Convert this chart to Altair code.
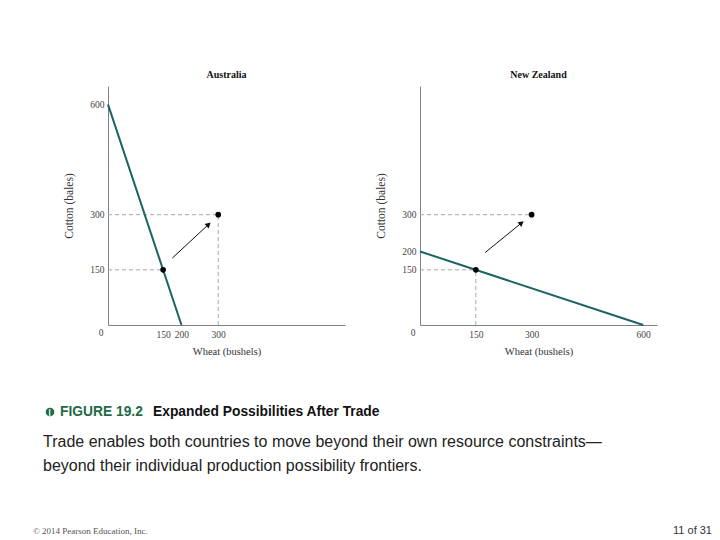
import altair as alt
import pandas as pd

# ---------------- data ----------------
aus_ppf_wheat = [0, 200]
aus_ppf_cotton = [600, 0]
nz_ppf_wheat = [0, 600]
nz_ppf_cotton = [200, 0]

pt_wheat = [150, 300]
pt_cotton = [150, 300]

aus_arrow = {"x": 175, "y": 182, "x2": 272, "y2": 272}
nz_arrow = {"x": 175, "y": 197, "x2": 271, "y2": 276}

aus_x_ticks = [150, 200, 300]
aus_y_ticks = [150, 300, 600]
nz_x_ticks = [150, 300, 600]
nz_y_ticks = [150, 200, 300]

# dashed guides: (x, x2, y, y2)
aus_guides = [(0, 300, 300, 300), (300, 300, 0, 300), (0, 150, 150, 150)]
nz_guides = [(0, 300, 300, 300), (0, 150, 150, 150), (150, 150, 0, 150)]

fig_label = "FIGURE 19.2"
fig_title = "Expanded Possibilities After Trade"
desc_lines = [
    "Trade enables both countries to move beyond their own resource constraints\u2014",
    "beyond their individual production possibility frontiers.",
]
footer_left = "\u00a9 2014 Pearson Education, Inc."
footer_right = "11 of 31"

TEAL = "#1b6464"
SERIF = "Liberation Serif"
SANS = "Liberation Sans"


def panel(title, ppf_w, ppf_c, xdom, ydom, xt, yt, guides, arrow, angle):
    xs = alt.Scale(domain=xdom, nice=False, zero=True)
    ys = alt.Scale(domain=ydom, nice=False, zero=True)
    xax = alt.Axis(values=xt, title="Wheat (bushels)", labelFlush=False)
    yax = alt.Axis(values=yt, title="Cotton (bales)")

    gdf = pd.DataFrame(guides, columns=["x", "x2", "y", "y2"])
    guide = alt.Chart(gdf).mark_rule(
        color="#a8a8a8", strokeDash=[4, 3], strokeWidth=1
    ).encode(
        x=alt.X("x:Q", scale=xs, axis=xax),
        x2="x2:Q",
        y=alt.Y("y:Q", scale=ys, axis=yax),
        y2="y2:Q",
    )

    ppf = alt.Chart(pd.DataFrame({"w": ppf_w, "c": ppf_c})).mark_line(
        color=TEAL, strokeWidth=2
    ).encode(x=alt.X("w:Q", scale=xs), y=alt.Y("c:Q", scale=ys))

    adf = pd.DataFrame([arrow])
    arr = alt.Chart(adf).mark_rule(color="#111", strokeWidth=1).encode(
        x=alt.X("x:Q", scale=xs), x2="x2:Q", y=alt.Y("y:Q", scale=ys), y2="y2:Q"
    )
    head = alt.Chart(adf).mark_point(
        shape="triangle", filled=True, color="#111", size=38, angle=angle, opacity=1
    ).encode(x=alt.X("x2:Q", scale=xs), y=alt.Y("y2:Q", scale=ys))

    pts = alt.Chart(pd.DataFrame({"w": pt_wheat, "c": pt_cotton})).mark_circle(
        color="#000", size=32, opacity=1
    ).encode(x=alt.X("w:Q", scale=xs), y=alt.Y("c:Q", scale=ys))

    zero = alt.Chart(pd.DataFrame({"w": [0], "c": [0], "t": ["0"]})).mark_text(
        font=SERIF, fontSize=9.5, color="#444", dx=-7, dy=8
    ).encode(x=alt.X("w:Q", scale=xs), y=alt.Y("c:Q", scale=ys), text="t:N")

    return alt.layer(guide, ppf, arr, head, pts, zero).properties(
        width=237,
        height=239,
        title=alt.TitleParams(
            title, font=SERIF, fontSize=10, fontWeight="bold", color="#111", offset=6
        ),
    )


aus = panel("Australia", aus_ppf_wheat, aus_ppf_cotton, [0, 645], [0, 650],
            aus_x_ticks, aus_y_ticks, aus_guides, aus_arrow, 47)
nz = panel("New Zealand", nz_ppf_wheat, nz_ppf_cotton, [0, 637], [0, 650],
           nz_x_ticks, nz_y_ticks, nz_guides, nz_arrow, 51)

top = alt.hconcat(aus, nz, spacing=75, bounds="flush").resolve_scale(x="independent", y="independent")

one = alt.Data(values=[{}])


def txt(t, x, y, align="left", **kw):
    return alt.Chart(one).mark_text(align=align, baseline="middle", **kw).encode(
        x=alt.value(x), y=alt.value(y), text=alt.value(t)
    )


icon = alt.Chart(one).mark_point(filled=True, shape="circle", color="#1f6b45", size=75, opacity=1).encode(
    x=alt.value(-58), y=alt.value(87)
)
icon2 = txt("|", -59.5, 87, font=SANS, fontSize=8, fontWeight="bold", color="white")

texts = alt.layer(
    icon,
    icon2,
    txt(fig_label, -48, 87, font=SANS, fontSize=13.8, fontWeight="bold", color="#1f6b45"),
    txt(fig_title, 45, 87, font=SANS, fontSize=13.8, fontWeight="bold", color="#111"),
    txt(desc_lines[0], -65, 117, font=SANS, fontSize=16, color="#222"),
    txt(desc_lines[1], -65, 141, font=SANS, fontSize=16, color="#222"),
    txt(footer_left, -75, 206, font=SERIF, fontSize=9, color="#555"),
    txt(footer_right, 604, 206, align="right", font=SANS, fontSize=11, color="#333"),
).properties(width=549, height=210)

chart = alt.vconcat(top, texts, spacing=239, bounds="flush").properties(
    padding={"left": 25, "top": 62, "right": 0, "bottom": 0}
).configure_view(stroke=None).configure_axis(
    domainColor="#808080",
    domainWidth=1,
    ticks=False,
    grid=False,
    labelFont=SERIF,
    labelFontSize=9.5,
    labelColor="#444",
    labelPadding=4,
    titleFont=SERIF,
    titleFontSize=10.5,
    titleFontWeight="normal",
    titleColor="#333",
).configure_axisX(titlePadding=8).configure_axisY(titlePadding=15, titleFontSize=11.5)

chart.save("out.html", embed_options={"renderer": "svg", "actions": False})
